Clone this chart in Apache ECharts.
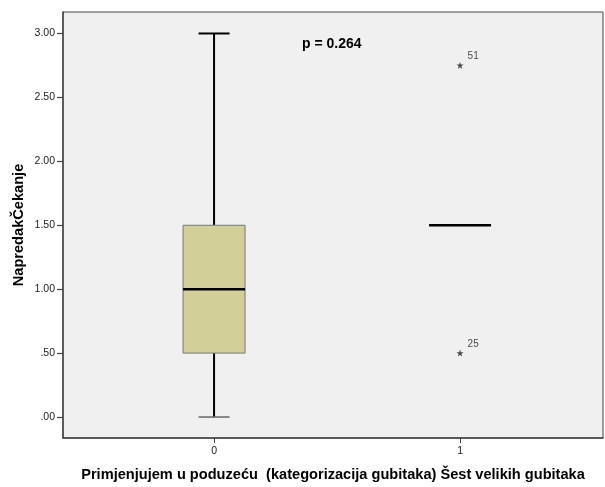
<!DOCTYPE html>
<html><head><meta charset="utf-8">
<script src="https://cdn.jsdelivr.net/npm/echarts@6/dist/echarts.min.js"></script>
<style>html,body{margin:0;padding:0;background:#fff}#c{width:605px;height:487px}</style>
</head><body><div id="c"></div>
<script>
const groups = [0, 1];
const mins = [0, 1.5];
const q1s = [0.5, 1.5];
const medians = [1.0, 1.5];
const q3s = [1.5, 1.5];
const maxs = [3.0, 1.5];
const outlierX = [1, 1];
const outlierY = [2.75, 0.5];
const outlierIds = ['51', '25'];
const yTicks = [0, 0.5, 1, 1.5, 2, 2.5, 3];
const xTicks = [0, 1];

const boxData = groups.map((g, i) => [g, mins[i], q1s[i], medians[i], q3s[i], maxs[i]]);
const outData = outlierX.map((x, i) => ({ value: [x, outlierY[i]], label: { formatter: outlierIds[i] } }));
const star = 'path://M0,-10 L2.35,-3.24 L9.51,-3.09 L3.8,1.24 L5.88,8.09 L0,4 L-5.88,8.09 L-3.8,1.24 L-9.51,-3.09 L-2.35,-3.24 Z';

const chart = echarts.init(document.getElementById('c'), null, { renderer: 'canvas' });
chart.setOption({
  animation: false,
  backgroundColor: '#ffffff',
  grid: { left: 63, right: 2, top: 12, bottom: 49, show: true, backgroundColor: '#f0f0f0', borderColor: '#444', borderWidth: 1 },
  xAxis: {
    type: 'value', min: -0.614, max: 1.581,
    name: 'Primjenjujem u poduzeću  (kategorizacija gubitaka) Šest velikih gubitaka',
    nameLocation: 'middle', nameGap: 29,
    nameTextStyle: { fontFamily: 'Liberation Sans, Arial', fontWeight: 'bold', fontSize: 14.6, color: '#000' },
    splitLine: { show: false },
    axisLine: { show: true, onZero: false, lineStyle: { color: '#444', width: 1.5 } },
    axisTick: { show: true, length: 5, customValues: xTicks, lineStyle: { color: '#444', width: 1 } },
    axisLabel: { customValues: xTicks, fontFamily: 'Liberation Sans, Arial', fontSize: 10.5, color: '#222', margin: 8, formatter: v => String(v) }
  },
  yAxis: {
    type: 'value', min: -0.164, max: 3.168,
    name: 'NapredakČekanje', nameLocation: 'middle', nameGap: 37, nameRotate: 90, nameMoveOverlap: false,
    nameTextStyle: { fontFamily: 'Liberation Sans, Arial', fontWeight: 'bold', fontSize: 14.6, color: '#000' },
    splitLine: { show: false },
    axisLine: { show: true, onZero: false, lineStyle: { color: '#444', width: 1.5 } },
    axisTick: { show: true, length: 6, customValues: yTicks, lineStyle: { color: '#444', width: 1.2 } },
    axisLabel: { customValues: yTicks, fontFamily: 'Liberation Sans, Arial', fontSize: 10.5, color: '#222', margin: 8,
      formatter: v => { const s = v.toFixed(2); return s.startsWith('0') ? s.slice(1) : s; } }
  },
  series: [
    {
      type: 'custom',
      data: boxData,
      renderItem: function (params, api) {
        const x = api.value(0);
        const pMin = api.coord([x, api.value(1)]);
        const pQ1 = api.coord([x, api.value(2)]);
        const pMed = api.coord([x, api.value(3)]);
        const pQ3 = api.coord([x, api.value(4)]);
        const pMax = api.coord([x, api.value(5)]);
        const hw = 31, cw = 15.5;
        const cx = pMed[0];
        const children = [];
        if (pQ3[1] !== pMax[1]) children.push({ type: 'line', shape: { x1: cx, y1: pQ3[1], x2: cx, y2: pMax[1] }, style: { stroke: '#000', lineWidth: 2 } });
        if (pQ1[1] !== pMin[1]) children.push({ type: 'line', shape: { x1: cx, y1: pQ1[1], x2: cx, y2: pMin[1] }, style: { stroke: '#000', lineWidth: 2 } });
        if (pQ3[1] !== pMax[1]) children.push({ type: 'line', shape: { x1: cx - cw, y1: pMax[1], x2: cx + cw, y2: pMax[1] }, style: { stroke: '#000', lineWidth: 2 } });
        if (pQ1[1] !== pMin[1]) children.push({ type: 'line', shape: { x1: cx - cw, y1: pMin[1], x2: cx + cw, y2: pMin[1] }, style: { stroke: '#666', lineWidth: 1.5 } });
        if (pQ1[1] !== pQ3[1]) children.push({ type: 'rect', shape: { x: cx - hw, y: pQ3[1], width: hw * 2, height: pQ1[1] - pQ3[1] }, style: { fill: '#d3cf98', stroke: '#777', lineWidth: 1 } });
        children.push({ type: 'line', shape: { x1: cx - hw, y1: pMed[1], x2: cx + hw, y2: pMed[1] }, style: { stroke: '#000', lineWidth: 2.5 } });
        return { type: 'group', children: children };
      },
      z: 3
    },
    {
      type: 'scatter',
      data: outData,
      symbol: star, symbolSize: 7,
      itemStyle: { color: '#222' },
      label: { show: true, position: 'right', offset: [-1, -9], fontFamily: 'Liberation Sans, Arial', fontSize: 10, color: '#222' },
      z: 4
    }
  ],
  graphic: [
    { type: 'text', left: 302, top: 37, style: { text: 'p = 0.264', font: 'bold 14px "Liberation Sans", Arial', fill: '#000' } }
  ]
});
</script></body></html>
